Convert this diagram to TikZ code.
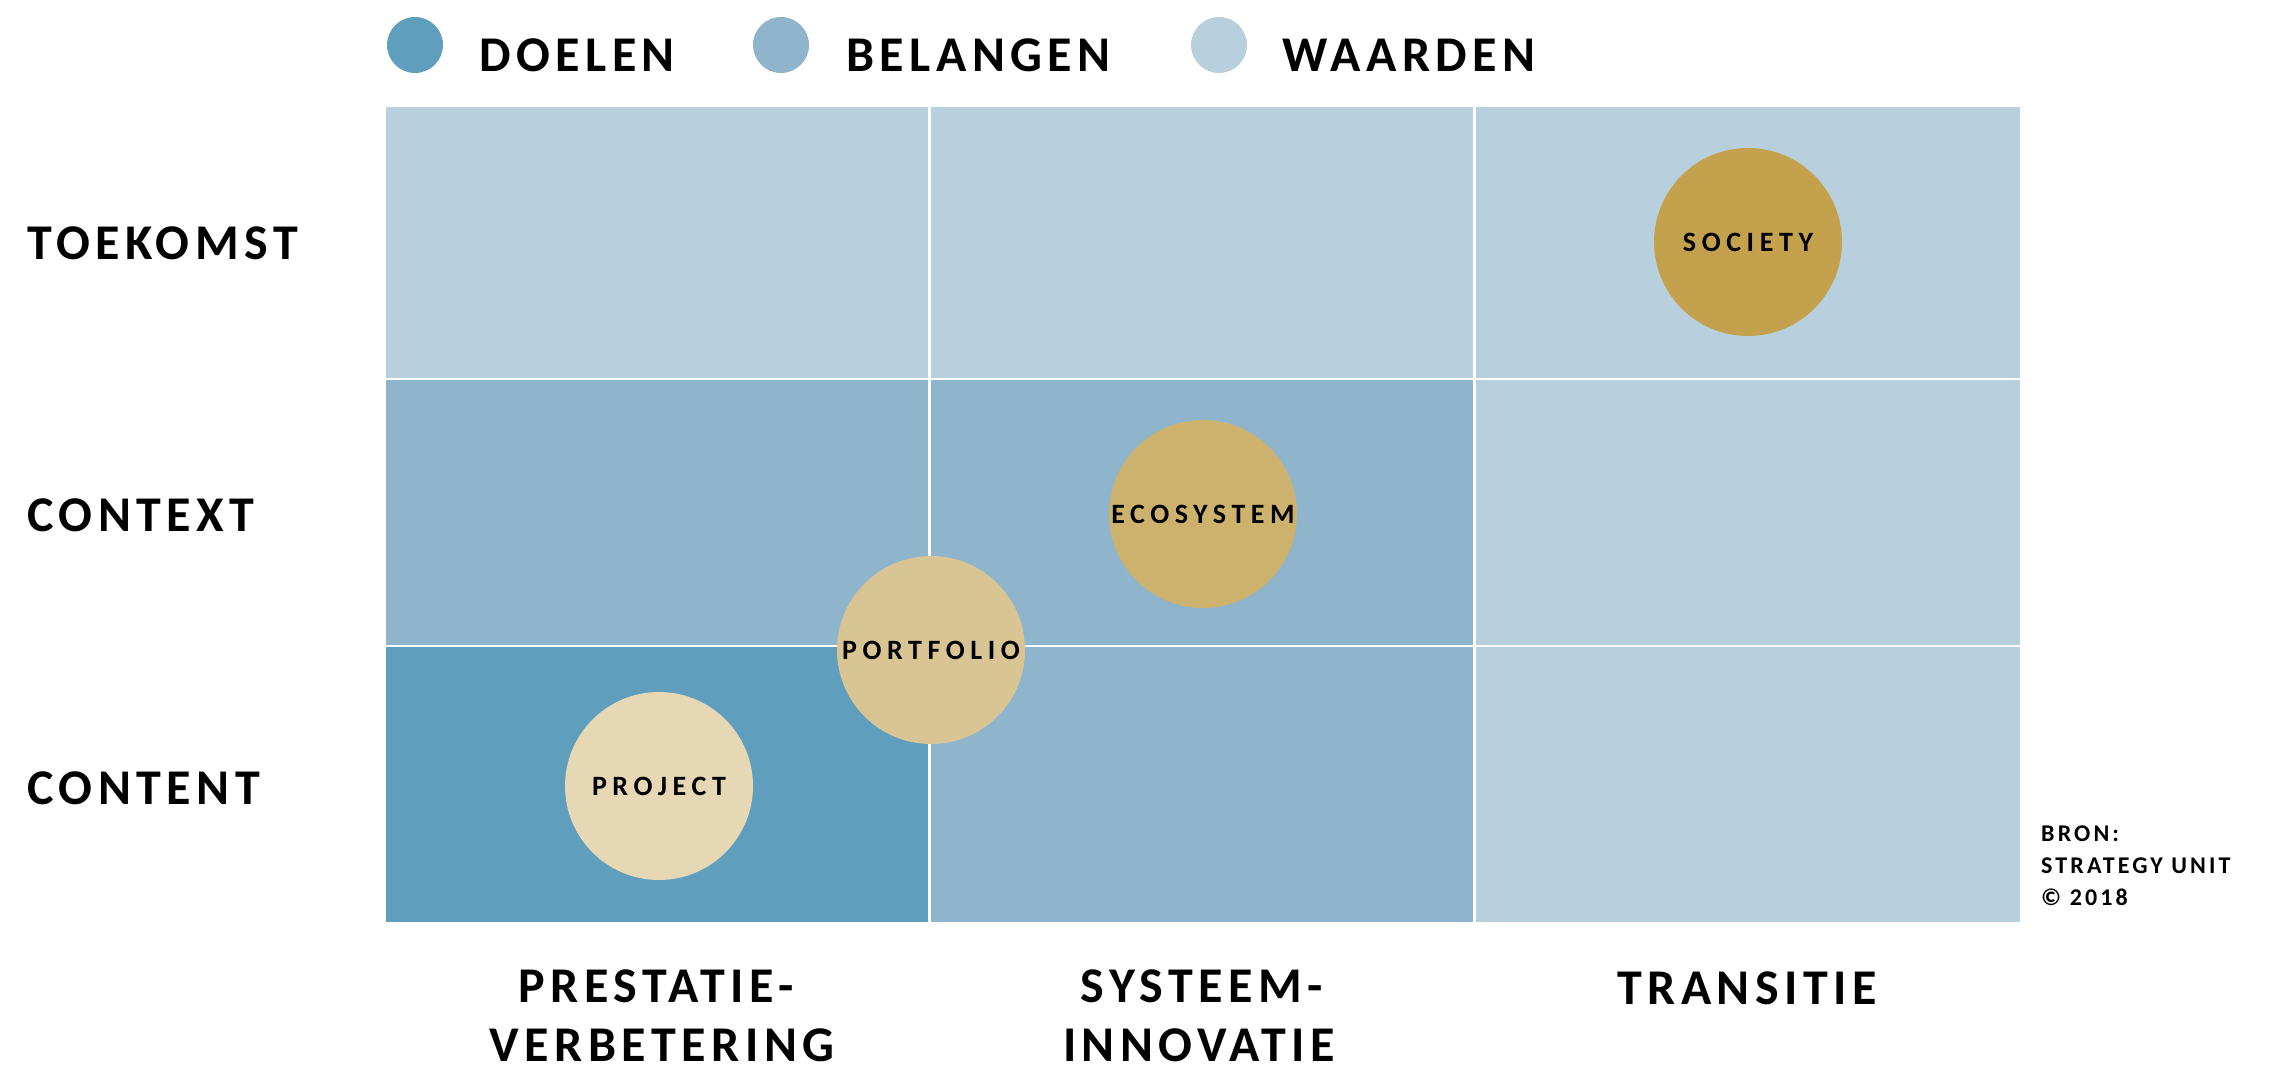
\documentclass[tikz,border=0pt]{standalone}
\usepackage{fontspec}
\setmainfont{Carlito}
\newfontfamily\lblfont{Carlito}[LetterSpace=11]
\newfontfamily\circfont{Carlito}[LetterSpace=20]
\newfontfamily\srcfont{Carlito}[LetterSpace=13]
\definecolor{doelen}{HTML}{5F9FBD}
\definecolor{belangen}{HTML}{8FB5CD}
\definecolor{waarden}{HTML}{B8CFDE}
\definecolor{cproject}{HTML}{E6D8B5}
\definecolor{cportfolio}{HTML}{D9C594}
\definecolor{cecosystem}{HTML}{CDB26E}
\definecolor{csociety}{HTML}{C4A24D}
\tikzset{
  biglabel/.style={inner sep=0pt, font=\lblfont\bfseries\fontsize{50}{60}\selectfont},
  legenddot/.style={circle, inner sep=0pt, minimum size=56pt},
  bubble/.style={circle, inner sep=0pt, minimum size=188pt, font=\circfont\bfseries\fontsize{28}{32}\selectfont},
  srclabel/.style={inner sep=0pt, align=left, font=\srcfont\bfseries\fontsize{24}{32}\selectfont},
}
\begin{document}
\begin{tikzpicture}[x=1pt,y=-1pt]
\path[use as bounding box] (0,0) rectangle (2284,1068);
% grid cells
\fill[waarden]  (386,107) rectangle (928,378);
\fill[waarden]  (931,107) rectangle (1473,378);
\fill[waarden]  (1476,107) rectangle (2020,378);
\fill[belangen] (386,380) rectangle (928,645);
\fill[belangen] (931,380) rectangle (1473,645);
\fill[waarden]  (1476,380) rectangle (2020,645);
\fill[doelen]   (386,647) rectangle (928,922);
\fill[belangen] (931,647) rectangle (1473,922);
\fill[waarden]  (1476,647) rectangle (2020,922);
% legend
\node[legenddot, fill=doelen]   (ld) at (415,45) {};
\node[legenddot, fill=belangen] (lb) at (781,45) {};
\node[legenddot, fill=waarden]  (lw) at (1219,45) {};
\node[biglabel, anchor=base west] (tdoelen)   at (479,71) {DOELEN};
\node[biglabel, anchor=base west] (tbelangen) at (846,71) {BELANGEN};
\node[biglabel, anchor=base west] (twaarden)  at (1282,71) {WAARDEN};
% row labels
\node[biglabel, anchor=base west] (toekomst) at (27,259) {TOEKOMST};
\node[biglabel, anchor=base west] (context)  at (27,531) {CONTEXT};
\node[biglabel, anchor=base west] (content)  at (27,804) {CONTENT};
% column labels
\node[biglabel, anchor=base] (c1a) at (656,1002) {PRESTATIE-};
\node[biglabel, anchor=base] (c1b) at (662,1061) {VERBETERING};
\node[biglabel, anchor=base] (c2a) at (1202,1002) {SYSTEEM-};
\node[biglabel, anchor=base] (c2b) at (1199,1061) {INNOVATIE};
\node[biglabel, anchor=base] (c3)  at (1747,1004) {TRANSITIE};
% bubbles
\node[bubble, fill=cproject]   (project)   at (659,786) {PROJECT};
\node[bubble, fill=cportfolio] (portfolio) at (931,650) {PORTFOLIO};
\node[bubble, fill=cecosystem] (ecosystem) at (1203,514) {ECOSYSTEM};
\node[bubble, fill=csociety]   (society)   at (1748,242) {SOCIETY};
% source
\node[srclabel, anchor=north west] (bron) at (2041,826) {BRON:\\STRATEGY UNIT\\© 2018};
\end{tikzpicture}
\end{document}
